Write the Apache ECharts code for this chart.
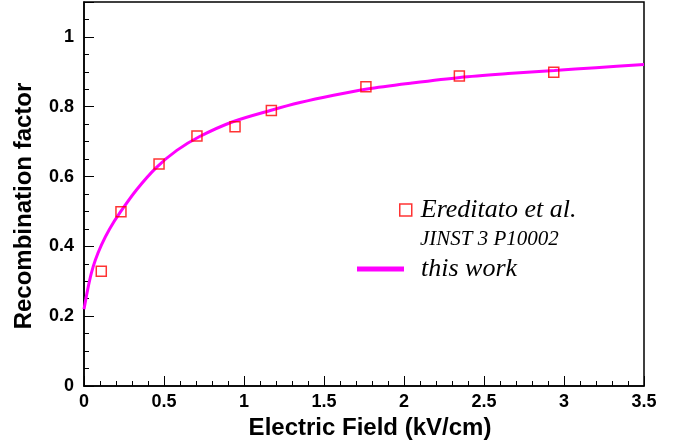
<!DOCTYPE html>
<html>
<head>
    <meta charset="utf-8">
    <title>Recombination factor</title>
    <script src="https://cdn.jsdelivr.net/npm/echarts@6/dist/echarts.min.js"></script>
    <style>
        html, body { margin: 0; padding: 0; background: #fff; }
        #chart { width: 686px; height: 447px; }
    </style>
</head>
<body>
<div id="chart"></div>
<script>
    // data points (Ereditato et al.)
    var fieldPts = [0.108, 0.231, 0.469, 0.706, 0.944, 1.171, 1.762, 2.346, 2.936];
    var recombPts = [0.329, 0.499, 0.636, 0.716, 0.743, 0.789, 0.857, 0.888, 0.899];

    // curve (this work)
    var fieldCurve = [0, 0.023, 0.046, 0.071, 0.11, 0.16, 0.23, 0.33, 0.45, 0.58, 0.72, 0.93, 1.17, 1.35, 1.56, 1.77, 2.05, 2.35, 2.65, 2.94, 3.2, 3.5];
    var recombCurve = [0.22, 0.276, 0.323, 0.361, 0.405, 0.45, 0.5, 0.563, 0.625, 0.675, 0.714, 0.757, 0.79, 0.812, 0.833, 0.851, 0.868, 0.884, 0.895, 0.904, 0.912, 0.921];

    var pairs = function (xs, ys) {
        return xs.map(function (x, i) { return [x, ys[i]]; });
    };

    var labelFont = {color: '#000', fontFamily: 'Liberation Sans', fontWeight: 'bold', fontSize: 18};
    var titleFont = {color: '#000', fontFamily: 'Liberation Sans', fontWeight: 'bold', fontSize: 24};
    var legendFont = {color: '#000', fontFamily: 'Liberation Serif', fontStyle: 'italic', fontSize: 26};

    var chart = echarts.init(document.getElementById('chart'));
    chart.setOption({
        animation: false,
        grid: {
            left: 84, right: 42, top: 2, bottom: 61,
            show: true, borderColor: '#000', borderWidth: 1.5, backgroundColor: 'transparent'
        },
        xAxis: {
            type: 'value', min: 0, max: 3.5, interval: 0.5,
            name: 'Electric Field (kV/cm)', nameLocation: 'middle', nameGap: 29,
            nameTextStyle: Object.assign({padding: [0, 0, 0, 12]}, titleFont),
            axisLine: {onZero: false, lineStyle: {color: '#000', width: 1.5}},
            axisTick: {inside: true, length: 10, lineStyle: {color: '#000', width: 1}},
            minorTick: {show: true, splitNumber: 5, length: 5, lineStyle: {color: '#000', width: 1}},
            axisLabel: Object.assign({margin: 7}, labelFont),
            splitLine: {show: false}
        },
        yAxis: [{
            type: 'value', min: 0, max: 1.1, interval: 0.2,
            name: 'Recombination factor', nameLocation: 'middle', nameGap: 48,
            nameTextStyle: Object.assign({padding: [0, 24, 0, 0]}, titleFont),
            axisLine: {onZero: false, lineStyle: {color: '#000', width: 1.5}},
            axisTick: {inside: true, length: 10, lineStyle: {color: '#000', width: 1}},
            axisLabel: Object.assign({margin: 10, formatter: function (v) {
                return v > 1.05 ? '' : String(v);
            }}, labelFont),
            splitLine: {show: false}
        }, {
            // minor ticks every 0.05
            type: 'value', min: 0, max: 1.1, interval: 0.05, position: 'left',
            axisLine: {show: false},
            axisTick: {inside: true, length: 5, lineStyle: {color: '#000', width: 1}},
            axisLabel: {show: false},
            splitLine: {show: false}
        }],
        legend: [{
            left: 399, top: 197, padding: 0,
            itemWidth: 12, itemHeight: 12,
            textStyle: Object.assign({padding: [0, 0, 0, 4]}, legendFont),
            data: [{
                name: 'Ereditato et al.', icon: 'rect',
                itemStyle: {color: 'transparent', borderColor: '#ff0000', borderWidth: 1.5}
            }]
        }, {
            left: 357, top: 256, padding: 0,
            itemWidth: 47, itemHeight: 5,
            textStyle: Object.assign({padding: [0, 0, 0, 12]}, legendFont),
            data: [{name: 'this work', icon: 'rect', itemStyle: {color: '#ff00ff'}}]
        }],
        graphic: [{
            type: 'text', left: 420, top: 229,
            style: {text: 'JINST 3 P10002', fill: '#000', font: 'italic 21px "Liberation Serif"'}
        }],
        series: [{
            name: 'this work',
            type: 'line',
            data: pairs(fieldCurve, recombCurve),
            smooth: 0.3,
            showSymbol: false,
            lineStyle: {color: '#ff00ff', width: 3},
            itemStyle: {color: '#ff00ff'},
            z: 2
        }, {
            name: 'Ereditato et al.',
            type: 'scatter',
            data: pairs(fieldPts, recombPts),
            symbol: 'rect',
            symbolSize: 10,
            itemStyle: {color: 'transparent', borderColor: '#ff0000', borderWidth: 1.5},
            z: 3
        }]
    });
</script>
</body>
</html>
